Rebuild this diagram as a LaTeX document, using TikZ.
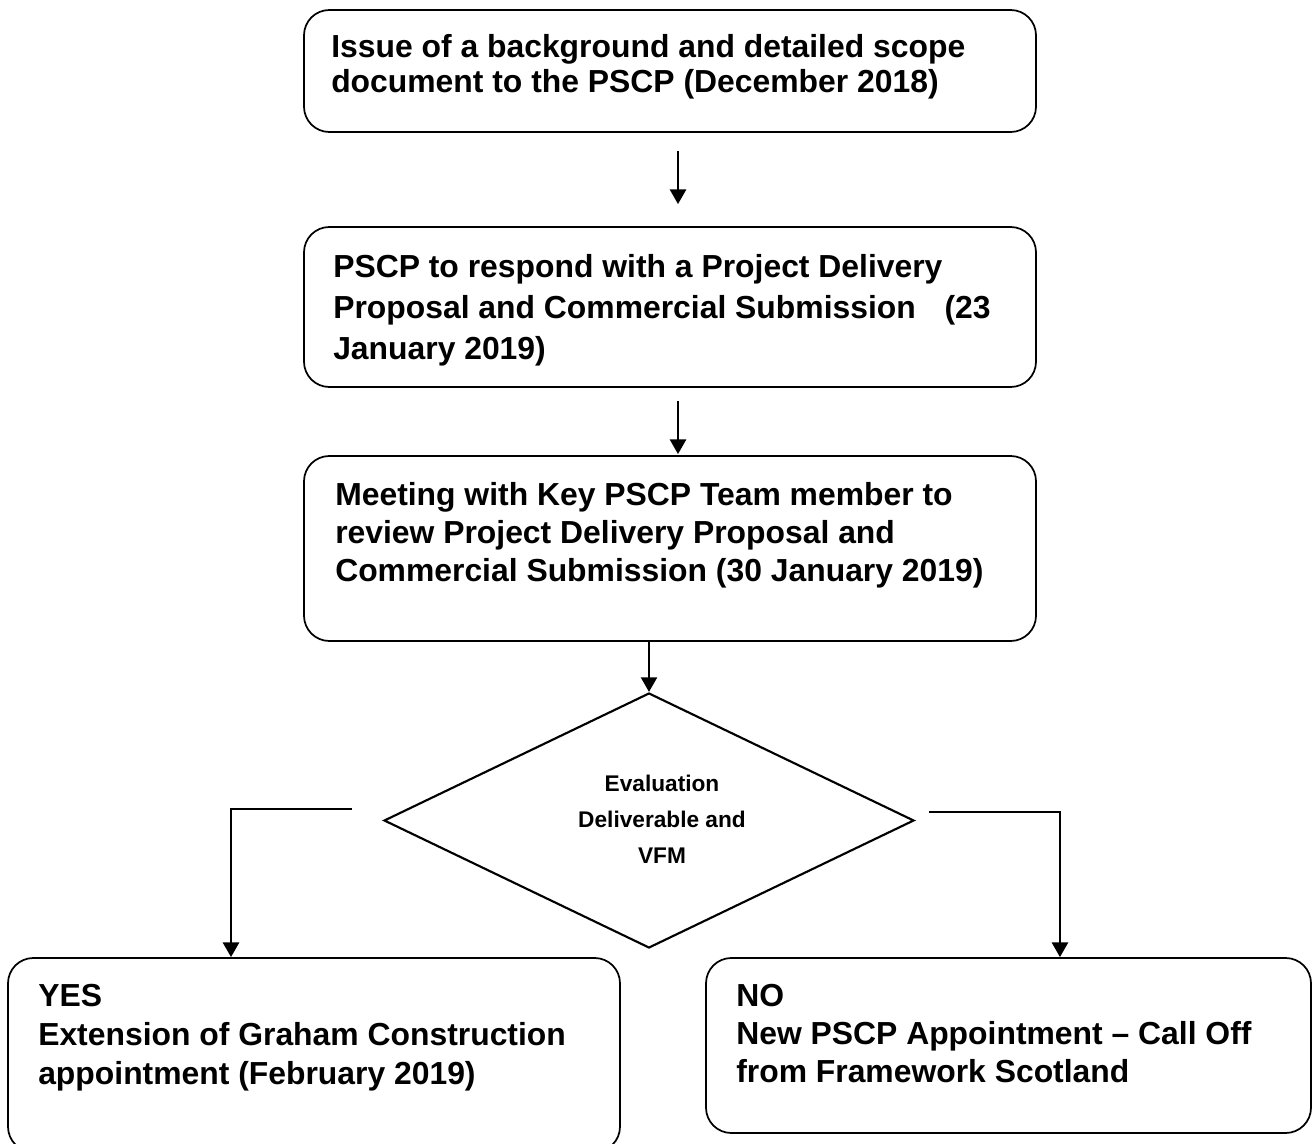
\documentclass[tikz,border=0pt]{standalone}
\usepackage{fontspec}
\setmainfont{Liberation Sans}
\usetikzlibrary{shapes.geometric,arrows.meta}
\begin{document}
\begin{tikzpicture}[x=0.75pt,y=-0.75pt,
  box/.style={draw,line width=1.3pt,rounded corners=19pt,inner sep=0pt},
  boxtext/.style={anchor=base west,align=left,inner sep=0pt,font=\bfseries\fontsize{23.9}{#1}\selectfont},
  decision/.style={draw,diamond,line width=1.6pt,inner sep=0pt,minimum width=397.5pt,minimum height=191.25pt},
  arr/.style={line width=1.9pt,-{Triangle[length=11pt,width=12pt]}},
  link/.style={line width=1.5pt}]
\useasboundingbox (0,0) rectangle (1313,1144);

% process boxes
\node[box,minimum width=549pt,minimum height=91.5pt] (b1) at (670,71) {};
\node[box,minimum width=549pt,minimum height=120pt] (b2) at (670,307) {};
\node[box,minimum width=549pt,minimum height=138.75pt] (b3) at (670,548.5) {};
\node[decision] (d) at (649,820.5) {};
\node[box,minimum width=459pt,minimum height=145.5pt] (b4) at (314,1055) {};
\node[box,minimum width=453.75pt,minimum height=131.25pt] (b5) at (1008.5,1045.5) {};

% box texts (anchored at the baseline of the last line)
\node[boxtext=26.25] (t1) at (331,93) {Issue of a background and detailed scope\\document to the PSCP (December 2018)};
\node[boxtext=30.75] (t2) at (333,360) {PSCP to respond with a Project Delivery\\Proposal and Commercial Submission\hspace{0.9em}(23\\January 2019)};
\node[boxtext=28.5] (t3) at (335,581) {Meeting with Key PSCP Team member to\\review Project Delivery Proposal and\\Commercial Submission (30 January 2019)};
\node[boxtext=29.25] (t4) at (38,1084) {YES\\Extension of Graham Construction\\appointment (February 2019)};
\node[boxtext=28.5] (t5) at (736,1082) {NO\\New PSCP Appointment – Call Off\\from Framework Scotland};
\node[anchor=center,align=center,inner sep=0pt,font=\bfseries\fontsize{17}{27}\selectfont] (td) at (662,819) {Evaluation\\Deliverable and\\VFM};

% connectors
\draw[arr,shorten <=13.5pt,shorten >=16.5pt] ([xshift=6pt]b1.south) -- ([xshift=6pt]b2.north);
\draw[arr,shorten <=9.75pt,shorten >=0.75pt] ([xshift=6pt]b2.south) -- ([xshift=6pt]b3.north);
\draw[arr] ([xshift=-15.75pt]b3.south) -- (d.north);
\coordinate (ys) at (352,809);
\coordinate (ns) at (929,812);
\draw[arr] (ys) -| ([xshift=-62.25pt]b4.north);
\draw[arr] (ns) -| ([xshift=38.6pt]b5.north);
\end{tikzpicture}
\end{document}
